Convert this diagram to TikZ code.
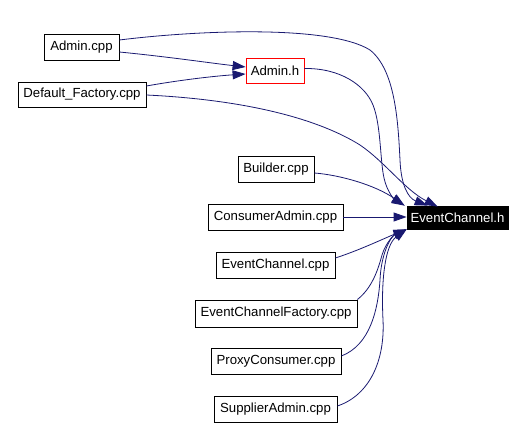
\documentclass[tikz,border=0pt]{standalone}
\usepackage{fontspec}
\setmainfont{Liberation Sans}
\usetikzlibrary{arrows.meta,calc}
\definecolor{edgecol}{HTML}{191970}
\tikzset{
  filebox/.style={draw=black, line width=0.8pt, fill=white, inner sep=0pt, font=\fontsize{13.2}{15}\selectfont},
  dep/.style={draw=edgecol, line width=0.8pt, -{Triangle[length=13pt,width=9pt]}, fill=none},
}
\begin{document}
\begin{tikzpicture}[x=1pt,y=-1pt]
\useasboundingbox (0,0) rectangle (526,427);
\node[filebox, minimum width=75pt, minimum height=26pt] (ac) at (81.5,47) {Admin.cpp};
\node[filebox, draw=red, minimum width=58pt, minimum height=25pt] (ah) at (275,70.5) {Admin.h};
\node[filebox, minimum width=128pt, minimum height=25pt] (df) at (82,94.5) {Default\_Factory.cpp};
\node[filebox, minimum width=76pt, minimum height=26pt] (bc) at (276,169) {Builder.cpp};
\node[filebox, minimum width=135pt, minimum height=26pt] (ca) at (275.5,217) {ConsumerAdmin.cpp};
\node[filebox, fill=black, text=white, minimum width=101pt, minimum height=23pt] (ec) at (457.5,217.5) {EventChannel.h};
\node[filebox, minimum width=119pt, minimum height=26pt] (ecc) at (275.5,265) {EventChannel.cpp};
\node[filebox, minimum width=162pt, minimum height=27pt] (ecf) at (276,313.5) {EventChannelFactory.cpp};
\node[filebox, minimum width=130pt, minimum height=26pt] (pc) at (276,361) {ProxyConsumer.cpp};
\node[filebox, minimum width=123pt, minimum height=26pt] (sa) at (275.5,409) {SupplierAdmin.cpp};

% to Admin.h
\draw[dep] ($(ac.east)+(0,5)$) .. controls (170,57) and (210,63) .. ($(ah.west)+(0,-3.5)$);
\draw[dep] ($(df.east)+(0,-8.5)$) .. controls (180,80) and (215,76) .. ($(ah.west)+(0,3.5)$);

% to EventChannel.h (top)
\draw[dep] ($(ac.east)+(0,-7)$) .. controls (200,30) and (330,25) .. (370,50)
  .. controls (395,70) and (398,120) .. (400,160)
  .. controls (401,185) and (408,198) .. ($(ec.north west)+(21,0)$);
\draw[dep] ($(ah.east)+(0,-2)$) .. controls (340,68) and (365,85) .. (373,105)
  .. controls (381,125) and (380,160) .. (384,178)
  .. controls (387,192) and (395,200) .. ($(ec.north west)+(-2,0)$);
\draw[dep] ($(df.east)+(0,0.5)$) .. controls (250,100) and (320,120) .. (360,145)
  .. controls (385,162) and (405,190) .. ($(ec.north west)+(31,1)$);
\draw[dep] ($(bc.east)+(0,4)$) .. controls (340,175) and (375,185) .. ($(ec.north west)+(-2,0)$);

% middle
\draw[dep] (ca.east) -- (ca.east -| ec.west);

% bottom
\draw[dep] ($(ecc.east)+(0,-7)$) .. controls (360,250) and (385,238) .. (ec.south west);
\draw[dep] ($(ecf.east)+(0,-14)$) .. controls (372,288) and (378,270) .. (382,255)
  .. controls (386,242) and (395,234) .. (ec.south west);
\draw[dep] ($(pc.east)+(0,-5)$) .. controls (370,345) and (378,310) .. (380,280)
  .. controls (381,255) and (390,237) .. (ec.south west);
\draw[dep] ($(sa.east)+(0,-3)$) .. controls (370,395) and (385,360) .. (383,320)
  .. controls (381,280) and (385,245) .. (ec.south west);
\end{tikzpicture}
\end{document}
